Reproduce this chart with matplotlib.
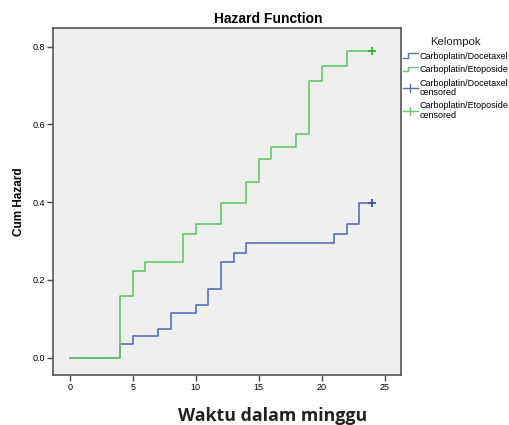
import numpy as np
import matplotlib
matplotlib.use("Agg")
import matplotlib.pyplot as plt
from matplotlib.lines import Line2D
from matplotlib.legend_handler import HandlerBase

# cumulative hazard step data (weeks)
doc_time = [0, 4, 5, 7, 8, 10, 11, 12, 13, 14, 21, 22, 23, 24]
doc_haz = [0.0, 0.036, 0.056, 0.075, 0.115, 0.135, 0.178, 0.246, 0.270, 0.294, 0.319, 0.344, 0.397, 0.397]
eto_time = [0, 4, 5, 6, 9, 10, 12, 14, 15, 16, 18, 19, 20, 22, 24]
eto_haz = [0.0, 0.158, 0.224, 0.247, 0.319, 0.344, 0.397, 0.452, 0.512, 0.542, 0.575, 0.713, 0.751, 0.790, 0.790]
doc_cens_t = [24]
doc_cens_h = [0.397]
eto_cens_t = [24]
eto_cens_h = [0.790]

labels = ["Carboplatin/Docetaxel", "Carboplatin/Etoposide",
          "Carboplatin/Docetaxel\ncensored", "Carboplatin/Etoposide\ncensored"]

blue = "#5a6fb8"
green = "#66c86a"
blue_m = "#3a52aa"
green_m = "#2fb535"

plt.rcParams['font.family'] = ['Liberation Sans', 'DejaVu Sans']


class StepHandler(HandlerBase):
    def create_artists(self, legend, orig_handle, xdescent, ydescent,
                       width, height, fontsize, trans):
        x0, x1 = -xdescent, -xdescent + width
        y0, y1 = -ydescent + height * 0.15, -ydescent + height * 0.85
        xm = x0 + width * 0.35
        ln = Line2D([x0, xm, xm, x1], [y0, y0, y1, y1],
                    color=orig_handle.get_color(), lw=1, transform=trans)
        return [ln]


class PlusHandler(HandlerBase):
    def create_artists(self, legend, orig_handle, xdescent, ydescent,
                       width, height, fontsize, trans):
        x0, x1 = -xdescent, -xdescent + width
        ym = -ydescent + height * 0.5
        xm = x0 + width * 0.45
        h = Line2D([x0, x1], [ym, ym], color=orig_handle.get_color(), lw=1, transform=trans)
        v = Line2D([xm, xm], [ym - height * 0.6, ym + height * 0.6],
                   color=orig_handle.get_color(), lw=1, transform=trans)
        return [h, v]


class StepKey(Line2D):
    pass


class PlusKey(Line2D):
    pass


fig = plt.figure(figsize=(5.1, 4.25), dpi=100)
ax = fig.add_axes([0.104, 0.118, 0.682, 0.816])
ax.set_facecolor("#efefef")

ax.step(doc_time, doc_haz, where="post", color=blue, lw=1.2)
ax.step(eto_time, eto_haz, where="post", color=green, lw=1.2)
ax.plot(doc_cens_t, doc_cens_h, "+", color=blue_m, ms=6, mew=1.3)
ax.plot(eto_cens_t, eto_cens_h, "+", color=green_m, ms=6, mew=1.3)

ax.set_xlim(-1.35, 26.3)
ax.set_ylim(-0.044, 0.848)
ax.set_xticks([0, 5, 10, 15, 20, 25])
ax.set_yticks([0.0, 0.2, 0.4, 0.6, 0.8])
ax.set_yticklabels(["%.1f" % v for v in [0.0, 0.2, 0.4, 0.6, 0.8]])
ax.tick_params(labelsize=6.5, length=4.3, width=1, color="#444444", pad=1.5)
for s in ax.spines.values():
    s.set_color("#555555")
    s.set_linewidth(1.2)

ax.set_title("Hazard Function", fontsize=10, fontweight="bold", pad=3.5, x=0.619)
ax.set_ylabel("Cum Hazard", fontsize=8.5, fontweight="bold")
ax.yaxis.set_label_coords(-0.080, 0.5)
fig.text(0.534, 0.0094, "Waktu dalam minggu", ha="center", va="baseline",
         fontsize=12.8, fontweight="bold", family=["Open Sans", "DejaVu Sans"],
         color="#222222")

handles = [StepKey([], [], color=blue), StepKey([], [], color=green),
           PlusKey([], [], color=blue), PlusKey([], [], color=green)]
leg = fig.legend(handles, labels, title="Kelompok", loc="upper left",
                 bbox_to_anchor=(0.775, 0.932), frameon=False,
                 title_fontsize=8.2, handlelength=1.6,
                 handletextpad=0.2, labelspacing=0.5,
                 prop={'size': 6.5, 'family': ['Liberation Sans', 'DejaVu Sans']},
                 handler_map={StepKey: StepHandler(), PlusKey: PlusHandler()})
for t in leg.get_texts():
    t.set_linespacing(1.05)
leg.get_title().set_color("#222222")

fig.savefig("out.png", dpi=100)
